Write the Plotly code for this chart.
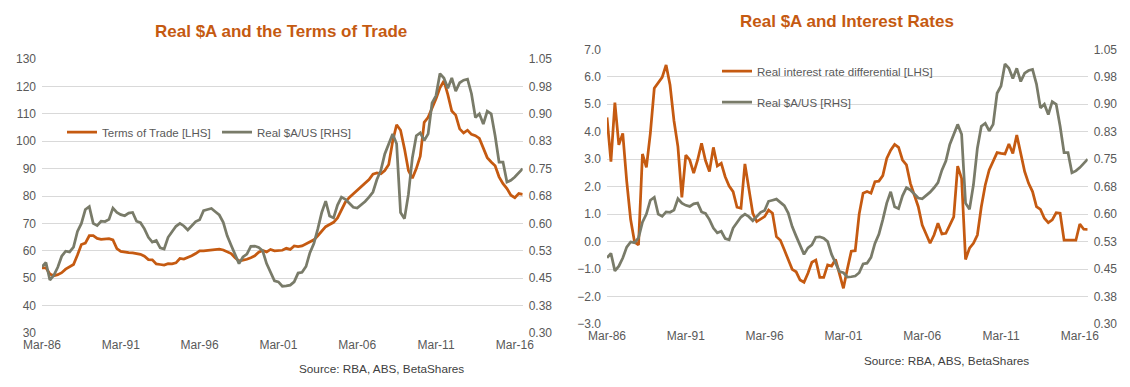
import plotly.graph_objects as go

# ---------------- data ----------------
months = ["Mar", "Jun", "Sep", "Dec"]
quarters = [f"{months[q % 4]}-{(1986 + q // 4) % 100:02d}" for q in range(123)]  # Mar-86 .. Sep-16

tick_labels = ["Mar-86", "Mar-91", "Mar-96", "Mar-01", "Mar-06", "Mar-11", "Mar-16"]

terms_of_trade = [
    53.8, 53.8, 51.5, 50.9, 51.3, 52.0, 53.3, 54.0, 55.0, 58.5,
    62.3, 62.8, 65.5, 65.5, 64.5, 64.2, 64.3, 64.4, 64.0, 60.8,
    59.8, 59.5, 59.3, 59.2, 58.9, 58.7, 58.0, 56.8, 56.7, 55.2,
    55.0, 54.8, 55.3, 55.2, 55.6, 57.2, 57.0, 57.5, 58.2, 59.0,
    60.0, 60.0, 60.2, 60.4, 60.6, 60.6, 60.3, 59.6, 59.0, 57.5,
    56.3, 56.6, 56.9, 57.5, 58.2, 59.5, 60.1, 59.6, 60.5, 60.0,
    60.0, 60.2, 60.9, 60.5, 61.8, 61.5, 61.8, 62.5, 63.0, 64.0,
    65.5, 67.0, 68.8, 69.6, 70.4, 72.0, 75.0, 77.8, 79.5, 80.8,
    82.0, 83.2, 84.5, 86.0, 88.0, 88.4, 88.1, 89.3, 91.5, 100.0,
    106.0, 104.0, 97.2, 89.3, 86.5, 90.0, 94.5, 106.9, 108.7, 112.0,
    115.5, 119.5, 122.0, 117.0, 111.0, 109.5, 104.5, 103.0, 104.0, 102.5,
    102.0, 101.0, 97.5, 94.0, 92.4, 91.0, 87.0, 84.5, 82.7, 80.3,
    79.4, 80.9, 80.6,
]

real_aud_us = [
    0.481, 0.493, 0.445, 0.458, 0.480, 0.510, 0.524, 0.522, 0.535, 0.578,
    0.600, 0.638, 0.646, 0.600, 0.594, 0.606, 0.605, 0.611, 0.642, 0.630,
    0.624, 0.621, 0.628, 0.630, 0.606, 0.602, 0.585, 0.562, 0.549, 0.553,
    0.533, 0.530, 0.562, 0.576, 0.592, 0.600, 0.593, 0.582, 0.595, 0.605,
    0.610, 0.635, 0.638, 0.641, 0.632, 0.623, 0.603, 0.566, 0.540, 0.515,
    0.490, 0.508, 0.516, 0.537, 0.538, 0.534, 0.525, 0.490, 0.465, 0.443,
    0.440, 0.428, 0.429, 0.431, 0.440, 0.464, 0.466, 0.482, 0.520, 0.545,
    0.585, 0.630, 0.661, 0.620, 0.615, 0.650, 0.672, 0.666, 0.655, 0.644,
    0.642, 0.650, 0.660, 0.672, 0.686, 0.720, 0.745, 0.790, 0.815, 0.845,
    0.818, 0.630, 0.613, 0.680, 0.780, 0.840, 0.848, 0.827, 0.845, 0.930,
    0.950, 1.010, 0.998, 0.970, 0.998, 0.962, 0.985, 0.992, 0.995, 0.955,
    0.890, 0.900, 0.872, 0.907, 0.900, 0.840, 0.768, 0.768, 0.713, 0.718,
    0.727, 0.740, 0.750,
]

real_rate_diff = [
    4.52, 2.91, 5.06, 3.52, 3.94, 2.2, 0.8, -0.02, -0.12, 3.19,
    2.7, 3.94, 5.58, 5.79, 5.98, 6.43, 5.7, 4.4, 3.46, 1.61,
    3.15, 2.97, 2.49, 2.97, 3.58, 2.95, 2.55, 3.43, 2.75, 2.85,
    2.36, 2.02, 1.82, 1.25, 1.21, 2.83, 2.0, 1.03, 0.73, 0.81,
    0.91, 1.15, 1.03, 0.18, 0.05, -0.3, -0.65, -1.01, -1.1, -1.4,
    -1.48, -1.15, -0.75, -0.67, -1.3, -1.3, -0.85, -0.89, -0.65, -1.2,
    -1.7, -1.0, -0.35, -0.33, 1.0, 1.76, 1.82, 1.76, 2.18, 2.2,
    2.4, 3.03, 3.33, 3.54, 3.43, 2.97, 2.79, 2.12, 1.73, 1.27,
    0.6, 0.24, -0.06, 0.24, 0.67, 0.28, 0.3, 0.6, 0.9, 2.75,
    2.3, -0.65, -0.24, -0.06, 0.24, 1.27, 2.06, 2.61, 2.91, 3.24,
    3.21, 3.19, 3.55, 3.21, 3.88, 3.21, 2.55, 2.12, 1.82, 1.27,
    1.17, 0.85, 0.69, 0.79, 1.05, 1.03, 0.05, 0.05, 0.05, 0.05,
    0.64, 0.45, 0.44,
]

rhs_tickvals = [0.30, 0.375, 0.45, 0.525, 0.60, 0.675, 0.75, 0.825, 0.90, 0.975, 1.05]
rhs_ticktext = ["0.30", "0.38", "0.45", "0.53", "0.60", "0.68", "0.75", "0.83", "0.90", "0.98", "1.05"]

# ---------------- style ----------------
ORANGE = "#C55A11"
GREY_LINE = "#797B69"
GRID = "#D9D9D9"
TXT = "#595959"
FONT = "Liberation Sans Narrow, Arial Narrow, Liberation Sans, Arial, sans-serif"
TITLE_FONT = "Liberation Sans Narrow, Arial Narrow, Liberation Sans, sans-serif"
W, H = 1130, 387
OFF = 8  # page body margin offset of the rendered figure


def px_x(p):
    return (p - OFF) / W


def px_y(p):
    return 1 - (p - OFF) / H


fig = go.Figure()

fig.add_trace(go.Scatter(x=quarters, y=terms_of_trade, name="Terms of Trade [LHS]",
                         mode="lines", line=dict(color=ORANGE, width=2.75),
                         xaxis="x", yaxis="y", legend="legend"))
fig.add_trace(go.Scatter(x=quarters, y=real_aud_us, name="Real $A/US [RHS]",
                         mode="lines", line=dict(color=GREY_LINE, width=2.75),
                         xaxis="x", yaxis="y2", legend="legend"))
fig.add_trace(go.Scatter(x=quarters, y=real_rate_diff, name="Real interest rate differential [LHS]",
                         mode="lines", line=dict(color=ORANGE, width=2.75),
                         xaxis="x2", yaxis="y3", legend="legend2", legendgroup="a"))
fig.add_trace(go.Scatter(x=quarters, y=real_aud_us, name="Real $A/US [RHS]",
                         mode="lines", line=dict(color=GREY_LINE, width=2.75),
                         xaxis="x2", yaxis="y4", legend="legend2", legendgroup="b"))

tick_font = dict(family=FONT, size=12, color=TXT)

xcommon = dict(type="category", range=[0, len(quarters) - 1], tickmode="array",
               tickvals=tick_labels, ticktext=tick_labels, showgrid=False,
               zeroline=False, showline=False, ticks="", tickfont=tick_font,
               automargin=False, ticklabelstandoff=3)

ycommon = dict(zeroline=False, showline=False, tickfont=tick_font, automargin=False,
               ticklabelstandoff=5)

fig.update_layout(
    width=W, height=H,
    margin=dict(l=0, r=0, t=0, b=0, autoexpand=False),
    paper_bgcolor="white", plot_bgcolor="white",
    xaxis=dict(domain=[px_x(42), px_x(522.7)], anchor="y", **xcommon),
    yaxis=dict(domain=[px_y(333), px_y(59)], range=[30, 130], dtick=10,
               gridcolor=GRID, gridwidth=1, anchor="x", **ycommon),
    yaxis2=dict(overlaying="y", side="right", anchor="x", range=[0.30, 1.05],
                tickmode="array", tickvals=rhs_tickvals, ticktext=rhs_ticktext,
                showgrid=False, **ycommon),
    xaxis2=dict(domain=[px_x(607), px_x(1087.7)], anchor="y3", **xcommon),
    yaxis3=dict(domain=[px_y(324), px_y(49.3)], range=[-3, 7], dtick=1,
                tickformat=".1f", gridcolor=GRID, gridwidth=1, anchor="x2", **ycommon),
    yaxis4=dict(overlaying="y3", side="right", anchor="x2", range=[0.30, 1.05],
                tickmode="array", tickvals=rhs_tickvals, ticktext=rhs_ticktext,
                showgrid=False, **ycommon),
    legend=dict(orientation="h", x=px_x(62), y=px_y(132), xanchor="left", yanchor="middle",
                font=dict(family=FONT, size=11.5, color=TXT), bgcolor="rgba(0,0,0,0)",
                entrywidth=110, entrywidthmode="pixels", itemwidth=30),
    legend2=dict(orientation="v", x=px_x(717), y=px_y(86.5), xanchor="left", yanchor="middle",
                 font=dict(family=FONT, size=11.5, color=TXT), bgcolor="rgba(0,0,0,0)",
                 tracegroupgap=12, itemwidth=30),
    showlegend=True,
)

title_font = dict(family=TITLE_FONT, size=17, color=ORANGE, weight="bold")
src_font = dict(family=FONT, size=11.75, color="#404040")

fig.add_annotation(text="Real $A and the Terms of Trade", xref="paper", yref="paper",
                   x=px_x(281), y=px_y(31), xanchor="center", yanchor="middle",
                   showarrow=False, font=title_font)
fig.add_annotation(text="Real $A and Interest Rates", xref="paper", yref="paper",
                   x=px_x(847), y=px_y(22), xanchor="center", yanchor="middle",
                   showarrow=False, font=title_font)
fig.add_annotation(text="Source: RBA, ABS, BetaShares", xref="paper", yref="paper",
                   x=px_x(466), y=px_y(368), xanchor="right", yanchor="middle",
                   showarrow=False, font=src_font)
fig.add_annotation(text="Source: RBA, ABS, BetaShares", xref="paper", yref="paper",
                   x=px_x(1031), y=px_y(360), xanchor="right", yanchor="middle",
                   showarrow=False, font=src_font)

fig.write_html("out.html")
